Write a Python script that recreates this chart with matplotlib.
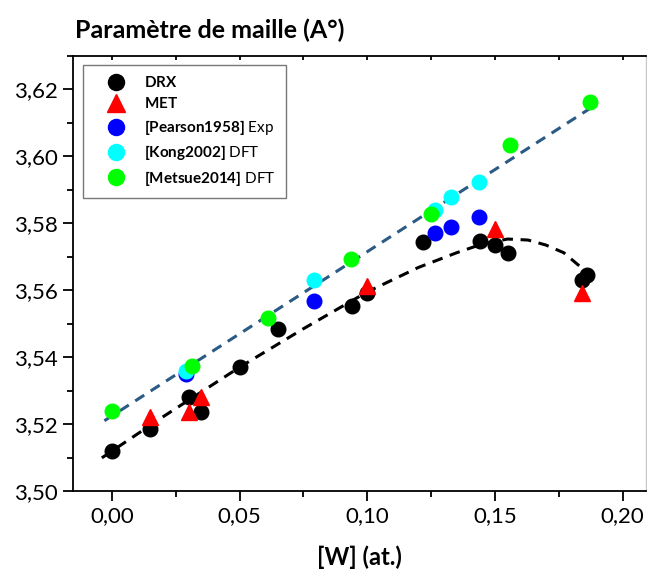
import matplotlib
matplotlib.use("Agg")
import matplotlib.pyplot as plt
from matplotlib.ticker import FuncFormatter, MultipleLocator

plt.rcParams["font.family"] = ["Lato", "DejaVu Sans"]
plt.rcParams["mathtext.fontset"] = "custom"
plt.rcParams["mathtext.rm"] = "Lato"
plt.rcParams["mathtext.bf"] = "Lato:bold"

# --- data ---
drx_x = [0.000, 0.015, 0.030, 0.035, 0.050, 0.065, 0.094, 0.100,
         0.122, 0.144, 0.150, 0.155, 0.184, 0.186]
drx_y = [3.5120, 3.5186, 3.5281, 3.5236, 3.5371, 3.5485, 3.5554, 3.5593,
         3.5745, 3.5748, 3.5736, 3.5712, 3.5632, 3.5646]

met_x = [0.015, 0.030, 0.035, 0.100, 0.150, 0.184]
met_y = [3.5221, 3.5236, 3.5281, 3.5613, 3.5784, 3.5593]

pearson_x = [0.029, 0.079, 0.1266, 0.1328, 0.1438]
pearson_y = [3.5350, 3.5569, 3.5772, 3.5790, 3.5820]

kong_x = [0.029, 0.079, 0.1266, 0.1328, 0.1438]
kong_y = [3.5359, 3.5631, 3.5841, 3.5880, 3.5922]

metsue_x = [0.000, 0.0313, 0.0611, 0.0937, 0.125, 0.156, 0.1873]
metsue_y = [3.5239, 3.5374, 3.5518, 3.5694, 3.5829, 3.6033, 3.6164]

# linear trend through the literature values
lit_fit_x = [-0.003, 0.187]
lit_fit_y = [3.5210, 3.6142]

# guide curve through DRX values
drx_fit_x = [-0.004, 0.020, 0.050, 0.075, 0.100, 0.120, 0.135, 0.145,
             0.155, 0.163, 0.170, 0.177, 0.1835]
drx_fit_y = [3.5099, 3.5222, 3.5370, 3.5485, 3.5595, 3.5668, 3.5712, 3.5738,
             3.5753, 3.5750, 3.5735, 3.5712, 3.5670]

fig = plt.figure(figsize=(6.47, 5.71), dpi=100)
ax = fig.add_axes([73 / 647, 80 / 571, 573 / 647, 435 / 571])

ax.plot(lit_fit_x, lit_fit_y, "--", color="#2b5a85", linewidth=2.2,
        dashes=(3.5, 2.5), zorder=2)
ax.plot(drx_fit_x, drx_fit_y, "--", color="black", linewidth=2.2,
        dashes=(3.5, 2.5), zorder=2)

ms = 10.5
ax.plot(drx_x, drx_y, "o", color="black", markersize=ms, linestyle="none",
        label=r"$\mathbf{DRX}$", zorder=3)
ax.plot(met_x, met_y, "^", color="red", markersize=ms + 1, linestyle="none",
        label=r"$\mathbf{MET}$", zorder=3)
ax.plot(pearson_x, pearson_y, "o", color="#0000ff", markersize=ms,
        linestyle="none", label=r"$\mathbf{[Pearson1958]}$ Exp", zorder=3)
ax.plot(kong_x, kong_y, "o", color="#00ffff", markersize=ms,
        linestyle="none", label=r"$\mathbf{[Kong2002]}$ DFT", zorder=3)
ax.plot(metsue_x, metsue_y, "o", color="#00ff00", markersize=ms,
        linestyle="none", label=r"$\mathbf{[Metsue2014]}$ DFT", zorder=3)

ax.set_xlim(-0.0153, 0.2092)
ax.set_ylim(3.50, 3.630)
ax.xaxis.set_major_locator(MultipleLocator(0.05))
ax.xaxis.set_minor_locator(MultipleLocator(0.025))
ax.yaxis.set_major_locator(MultipleLocator(0.02))
ax.yaxis.set_minor_locator(MultipleLocator(0.01))
comma = FuncFormatter(lambda v, _: f"{v:.2f}".replace(".", ","))
ax.xaxis.set_major_formatter(comma)
ax.yaxis.set_major_formatter(comma)

ax.tick_params(axis="both", which="major", direction="out", length=7,
               width=1.3, labelsize=16, pad=4)
ax.tick_params(axis="both", which="minor", direction="out", length=4,
               width=1.3)
ax.tick_params(axis="x", which="both", top=True, labeltop=False)
for sp in ["left", "bottom", "top"]:
    ax.spines[sp].set_linewidth(1.3)
ax.spines["right"].set_color("#c8c8c8")
ax.spines["right"].set_linewidth(1.0)

# top ticks are short and point inward
for t in ax.xaxis.get_major_ticks() + ax.xaxis.get_minor_ticks():
    t.tick2line.set_markersize(3)
    t.tick2line.set_marker(3)

ax.set_xlabel("[W] (at.)", fontsize=17, fontweight="bold", labelpad=14)
fig.text(75 / 647, 1 - 30 / 571, "Paramètre de maille (A°)", fontsize=18,
         fontweight="bold", ha="left", va="center")

leg = ax.legend(loc="upper left", bbox_to_anchor=(0.0175, 0.979),
                borderaxespad=0, fontsize=11, frameon=True, fancybox=False,
                edgecolor="#555555", handlelength=3.0, handletextpad=0.35,
                labelspacing=0.42, borderpad=0.65, markerscale=1.1)
leg.get_frame().set_linewidth(1.0)

fig.savefig("out.png", dpi=100)
